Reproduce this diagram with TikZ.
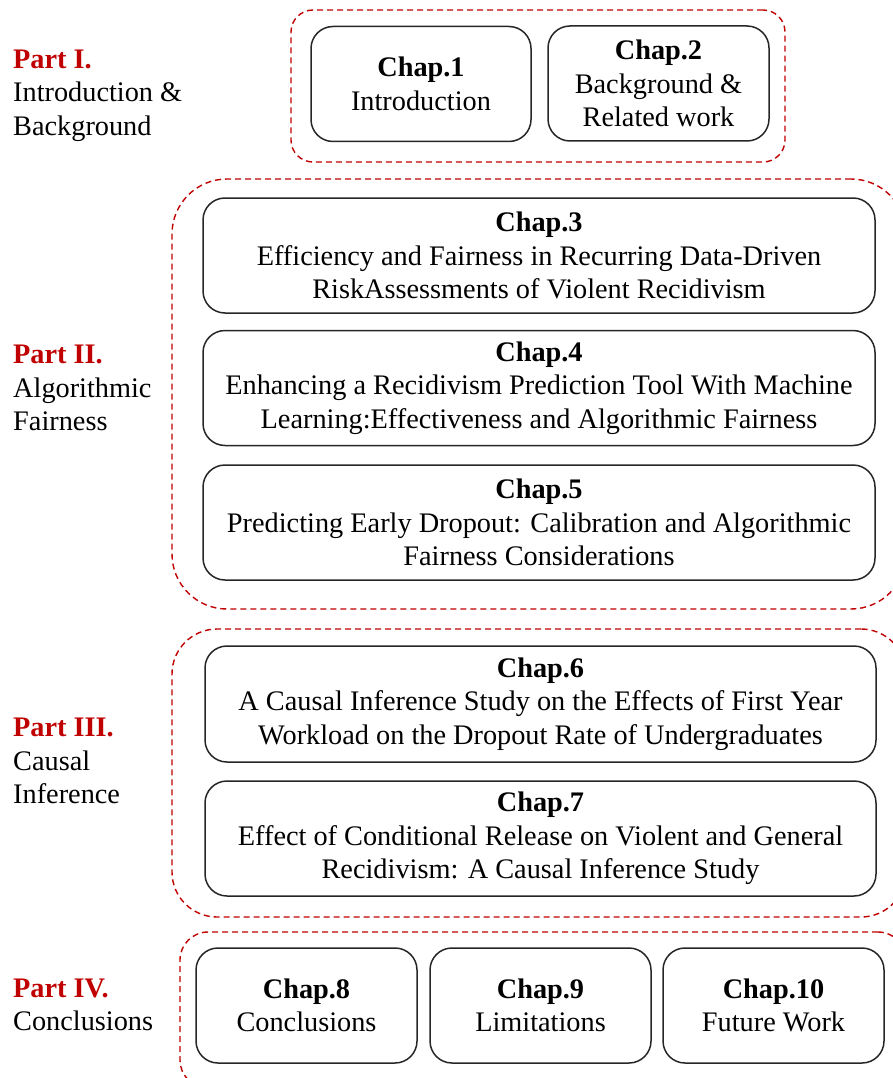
\documentclass[tikz,border=0pt]{standalone}
\usepackage{fontspec}
\setmainfont{Liberation Serif}
\definecolor{partred}{HTML}{C00000}
\begin{document}
\begin{tikzpicture}[x=1pt,y=-1pt,
  txt/.style={font=\fontsize{28.3}{33.5}\selectfont},
  chap/.style={txt, draw=black!85, line width=1.5pt, rounded corners=22pt,
    align=center, inner sep=0pt},
  group/.style={draw=partred, line width=1.4pt, dash pattern=on 6pt off 4pt},
  partlabel/.style={txt, align=left, anchor=west, inner sep=0pt}
]
\useasboundingbox (0,0) rectangle (893,1078);
\clip (0,0) rectangle (893,1078);

% dashed part frames
\node[group, rounded corners=22pt, minimum width=494pt, minimum height=152pt] (g1) at (538,86) {};
\node[group, rounded corners=55pt, minimum width=734pt, minimum height=430pt] (g2) at (539,394) {};
\node[group, rounded corners=45pt, minimum width=734pt, minimum height=288pt] (g3) at (539,773) {};
\node[group, rounded corners=28pt, minimum width=726pt, minimum height=156pt] (g4) at (543,1010) {};

% Part I
\node[chap, minimum width=220pt, minimum height=115pt] (c1) at (421,84)
  {\textbf{Chap.1}\\Introduction};
\node[chap, minimum width=221pt, minimum height=115pt] (c2) at (658.5,83.5)
  {\textbf{Chap.2}\\Background \&\\Related work};

% Part II
\node[chap, minimum width=672pt, minimum height=115pt] (c3) at (539,255.5)
  {\textbf{Chap.3}\\Efficiency and Fairness in Recurring Data-Driven\\RiskAssessments of Violent Recidivism};
\node[chap, minimum width=672pt, minimum height=115pt] (c4) at (539,388)
  {\textbf{Chap.4}\\Enhancing a Recidivism Prediction Tool With Machine\\Learning:Effectiveness and Algorithmic Fairness};
\node[chap, minimum width=672pt, minimum height=115pt] (c5) at (539,522.5)
  {\textbf{Chap.5}\\Predicting Early Dropout: Calibration and Algorithmic\\Fairness Considerations};

% Part III
\node[chap, minimum width=671pt, minimum height=116pt] (c6) at (540.5,704)
  {\textbf{Chap.6}\\A Causal Inference Study on the Effects of First Year\\Workload on the Dropout Rate of Undergraduates};
\node[chap, minimum width=671pt, minimum height=115pt] (c7) at (540.5,838.5)
  {\textbf{Chap.7}\\Effect of Conditional Release on Violent and General\\Recidivism: A Causal Inference Study};

% Part IV
\node[chap, minimum width=221pt, minimum height=115pt] (c8) at (306.5,1005.5)
  {\textbf{Chap.8}\\Conclusions};
\node[chap, minimum width=221pt, minimum height=115pt] (c9) at (540.5,1005.5)
  {\textbf{Chap.9}\\Limitations};
\node[chap, minimum width=221pt, minimum height=115pt] (c10) at (773.5,1005.5)
  {\textbf{Chap.10}\\Future Work};

% part labels
\node[partlabel] (p1) at (13,95.5) {{\color{partred}\bfseries Part I.}\\Introduction \&\\Background};
\node[partlabel] (p2) at (13,388) {{\color{partred}\bfseries Part II.}\\Algorithmic\\Fairness};
\node[partlabel] (p3) at (13,761) {{\color{partred}\bfseries Part III.}\\Causal\\Inference};
\node[partlabel] (p4) at (13,1005) {{\color{partred}\bfseries Part IV.}\\Conclusions};
\end{tikzpicture}
\end{document}
